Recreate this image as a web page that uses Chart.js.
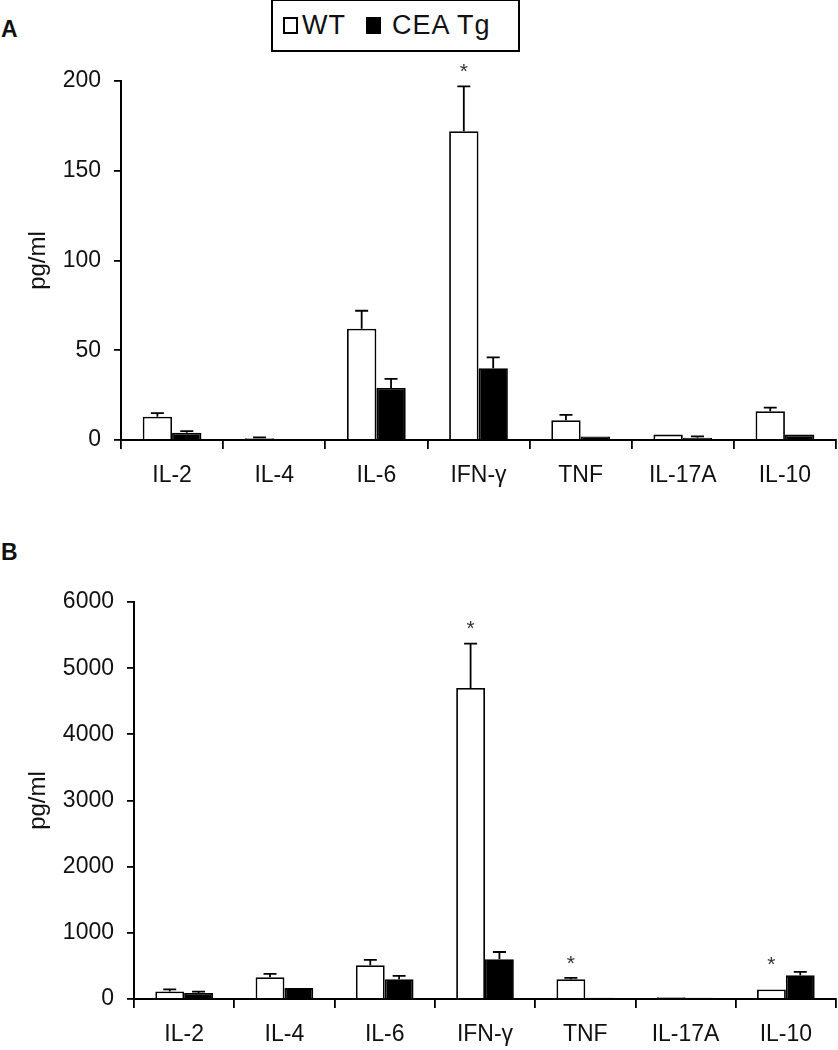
<!DOCTYPE html>
<html>
<head>
<meta charset="utf-8">
<script src="https://cdn.jsdelivr.net/npm/chart.js@4.4.1/dist/chart.umd.min.js"></script>
<style>
  body { margin: 0; background: #fff; width: 838px; height: 1050px; position: relative; overflow: hidden;
         font-family: "Liberation Sans", Arial, sans-serif; color: #111; }
  canvas { position: absolute; left: 0; }
  #chartA { top: 0; }
  #chartB { top: 500px; }
  .panel-label { position: absolute; left: 1px; font-weight: bold; font-size: 23px; line-height: 1; }
  #legend { position: absolute; left: 271px; top: -1px; width: 249px; height: 53px; box-sizing: border-box;
            border: 2px solid #000; display: flex; align-items: center; padding-left: 10px;
            font-size: 27px; letter-spacing: 1px; }
  .sw { display: inline-block; width: 15px; height: 17px; box-sizing: border-box; border: 2px solid #000; margin-right: 4px; }
  .item { display: flex; align-items: center; }
  .item + .item { margin-left: 20px; }
  .item + .item .sw { margin-right: 11px; }
</style>
</head>
<body>
<div class="panel-label" style="top:18px">A</div>
<div class="panel-label" style="top:541px">B</div>
<div id="legend"></div>
<canvas id="chartA" width="838" height="500"></canvas>
<canvas id="chartB" width="838" height="550"></canvas>
<script>
const cytokines = ['IL-2', 'IL-4', 'IL-6', 'IFN-γ', 'TNF', 'IL-17A', 'IL-10'];
const seriesNames = ['WT', 'CEA Tg'];

// panel A
const wtA = [13, 1, 62, 172, 11, 3, 16];
const wtErrA = [2, 0.5, 10, 25, 3, 0, 2];
const tgA = [4, 0, 29, 40, 2, 1.2, 3];
const tgErrA = [1, 0, 5, 6, 0, 0.8, 0];
const sigA = [false, false, false, true, false, false, false];
const ticksA = [0, 50, 100, 150, 200];

// panel B
const wtB = [115, 330, 510, 4700, 300, 25, 145];
const wtErrB = [30, 50, 80, 670, 20, 0, 0];
const tgB = [90, 165, 300, 600, 20, 20, 360];
const tgErrB = [20, 0, 50, 110, 0, 0, 50];
const sigB = [false, false, false, true, true, false, true];
const ticksB = [0, 1000, 2000, 3000, 4000, 5000, 6000];

const fontFamily = '"Liberation Sans", Arial, sans-serif';

// legend
const legend = document.getElementById('legend');
seriesNames.forEach((name, i) => {
  const item = document.createElement('span');
  item.className = 'item';
  item.innerHTML = `<span class="sw" style="background:${i === 0 ? '#fff' : '#000'}"></span>${name}`;
  legend.appendChild(item);
});

const errorBars = {
  id: 'errorBars',
  afterDatasetsDraw(chart) {
    const ctx = chart.ctx;
    const y = chart.scales.y;
    ctx.save();
    ctx.strokeStyle = '#000';
    ctx.lineWidth = 1.8;
    chart.data.datasets.forEach((ds, i) => {
      chart.getDatasetMeta(i).data.forEach((bar, j) => {
        const err = ds.errors[j];
        if (!err) return;
        const top = y.getPixelForValue(ds.data[j] + err);
        ctx.beginPath();
        ctx.moveTo(bar.x, bar.y);
        ctx.lineTo(bar.x, top);
        ctx.moveTo(bar.x - 6.5, top);
        ctx.lineTo(bar.x + 6.5, top);
        ctx.stroke();
      });
    });
    // significance marks over WT bars
    const ds = chart.data.datasets[0];
    ctx.fillStyle = '#333';
    ctx.font = '21px ' + fontFamily;
    ctx.textAlign = 'center';
    ctx.textBaseline = 'middle';
    chart.getDatasetMeta(0).data.forEach((bar, j) => {
      if (!chart.options.sig[j]) return;
      const top = y.getPixelForValue(ds.data[j] + ds.errors[j]);
      ctx.fillText('*', bar.x, Math.min(top - 14, chart.chartArea.bottom - 34));
    });
    ctx.restore();
  }
};

function makeChart(id, wt, wtErr, tg, tgErr, sig, ticks, axisWidth, axisHeight, padTop) {
  const max = ticks[ticks.length - 1];
  return new Chart(document.getElementById(id), {
    type: 'bar',
    data: {
      labels: cytokines,
      datasets: [
        { label: seriesNames[0], data: wt, errors: wtErr, backgroundColor: '#fff', borderColor: '#000', borderWidth: 1.8 },
        { label: seriesNames[1], data: tg, errors: tgErr, backgroundColor: '#000', borderColor: '#000', borderWidth: 1.8 }
      ]
    },
    options: {
      sig: sig,
      responsive: false,
      animation: false,
      devicePixelRatio: 1,
      categoryPercentage: 0.575,
      barPercentage: 1,
      layout: { padding: { top: padTop, right: 2, left: 0, bottom: 0 } },
      plugins: { legend: { display: false }, tooltip: { enabled: false } },
      scales: {
        x: {
          grid: { offset: true, drawOnChartArea: false, drawTicks: true, tickLength: 9, color: '#000', lineWidth: 1.8 },
          border: { display: true, color: '#000', width: 2 },
          ticks: { color: '#111', padding: 13, font: { family: fontFamily, size: 23 }, maxRotation: 0 },
          afterFit(scale) { scale.height = axisHeight; }
        },
        y: {
          min: 0, max: max,
          afterBuildTicks(scale) { scale.ticks = ticks.map(v => ({ value: v })); },
          grid: { drawOnChartArea: false, drawTicks: true, tickLength: 7, color: '#000', lineWidth: 1.8 },
          border: { display: true, color: '#000', width: 2 },
          ticks: { color: '#111', padding: 13, font: { family: fontFamily, size: 23 }, callback: v => String(v) },
          title: { display: true, text: 'pg/ml', color: '#111', font: { family: fontFamily, size: 24 }, padding: { top: 24 } },
          afterFit(scale) { scale.width = axisWidth; }
        }
      }
    },
    plugins: [errorBars]
  });
}

makeChart('chartA', wtA, wtErrA, tgA, tgErrA, sigA, ticksA, 121, 60, 81);
makeChart('chartB', wtB, wtErrB, tgB, tgErrB, sigB, ticksB, 134, 51, 102);
</script>
</body>
</html>
